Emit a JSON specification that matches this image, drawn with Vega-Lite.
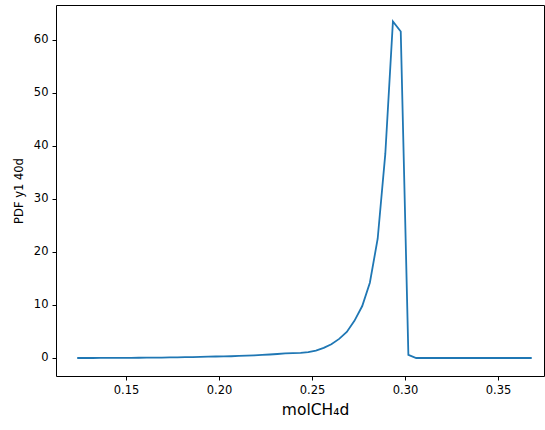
{
  "$schema": "https://vega.github.io/schema/vega-lite/v6.json",
  "width": 488,
  "height": 371,
  "autosize": "none",
  "padding": {"left": 56, "top": 5, "right": 1, "bottom": 54},
  "config": {
    "view": {"stroke": "#000", "strokeWidth": 1},
    "font": "DejaVu Sans",
    "axis": {
      "domain": false,
      "grid": false,
      "tickColor": "#000",
      "tickSize": 4,
      "tickWidth": 1,
      "labelColor": "#000",
      "labelFont": "DejaVu Sans",
      "labelFontSize": 11.5,
      "titleFont": "DejaVu Sans",
      "titleFontWeight": "normal",
      "titleColor": "#000"
    }
  },
  "data": {
    "values": [
      {"x": 0.1238, "v": 0.0}, {"x": 0.1279, "v": 0.0}, {"x": 0.1321, "v": 0.0}, {"x": 0.1362, "v": 0.01},
      {"x": 0.1404, "v": 0.01}, {"x": 0.1445, "v": 0.02}, {"x": 0.1486, "v": 0.02}, {"x": 0.1528, "v": 0.03},
      {"x": 0.1569, "v": 0.04}, {"x": 0.1611, "v": 0.05}, {"x": 0.1652, "v": 0.06}, {"x": 0.1693, "v": 0.08},
      {"x": 0.1735, "v": 0.1}, {"x": 0.1776, "v": 0.12}, {"x": 0.1818, "v": 0.15}, {"x": 0.1859, "v": 0.18},
      {"x": 0.1900, "v": 0.21}, {"x": 0.1942, "v": 0.25}, {"x": 0.1983, "v": 0.28}, {"x": 0.2025, "v": 0.3},
      {"x": 0.2066, "v": 0.33}, {"x": 0.2107, "v": 0.38}, {"x": 0.2149, "v": 0.44}, {"x": 0.2190, "v": 0.5},
      {"x": 0.2232, "v": 0.58}, {"x": 0.2273, "v": 0.66}, {"x": 0.2314, "v": 0.75}, {"x": 0.2356, "v": 0.85},
      {"x": 0.2397, "v": 0.92}, {"x": 0.2439, "v": 0.98}, {"x": 0.2480, "v": 1.1}, {"x": 0.2521, "v": 1.4},
      {"x": 0.2563, "v": 1.9}, {"x": 0.2604, "v": 2.6}, {"x": 0.2646, "v": 3.6}, {"x": 0.2687, "v": 4.9},
      {"x": 0.2728, "v": 7.0}, {"x": 0.2770, "v": 9.8}, {"x": 0.2811, "v": 14.2}, {"x": 0.2853, "v": 22.5},
      {"x": 0.2894, "v": 38.5}, {"x": 0.2935, "v": 63.5}, {"x": 0.2977, "v": 61.6}, {"x": 0.3018, "v": 0.6},
      {"x": 0.3060, "v": 0.0}, {"x": 0.3101, "v": 0.0}, {"x": 0.3142, "v": 0.0}, {"x": 0.3184, "v": 0.0},
      {"x": 0.3225, "v": 0.0}, {"x": 0.3267, "v": 0.0}, {"x": 0.3308, "v": 0.0}, {"x": 0.3349, "v": 0.0},
      {"x": 0.3391, "v": 0.0}, {"x": 0.3432, "v": 0.0}, {"x": 0.3474, "v": 0.0}, {"x": 0.3515, "v": 0.0},
      {"x": 0.3556, "v": 0.0}, {"x": 0.3598, "v": 0.0}, {"x": 0.3639, "v": 0.0}, {"x": 0.3681, "v": 0.0}
    ]
  },
  "mark": {"type": "line", "color": "#1f77b4", "strokeWidth": 1.8, "clip": true},
  "encoding": {
    "x": {
      "field": "x",
      "type": "quantitative",
      "scale": {"domain": [0.1124, 0.3747], "nice": false, "zero": false},
      "axis": {
        "values": [0.15, 0.2, 0.25, 0.3, 0.35],
        "format": ".2f",
        "title": "molCH₄d",
        "titleFontSize": 15.5,
        "titleX": 259,
        "titleAlign": "center",
        "titlePadding": 7,
        "labelPadding": 4
      }
    },
    "y": {
      "field": "v",
      "type": "quantitative",
      "scale": {"domain": [-3.4, 66.6], "nice": false, "zero": false},
      "axis": {
        "values": [0, 10, 20, 30, 40, 50, 60],
        "title": "PDF y1 40d",
        "titleFontSize": 11.5,
        "titlePadding": 9,
        "labelPadding": 4
      }
    }
  }
}
